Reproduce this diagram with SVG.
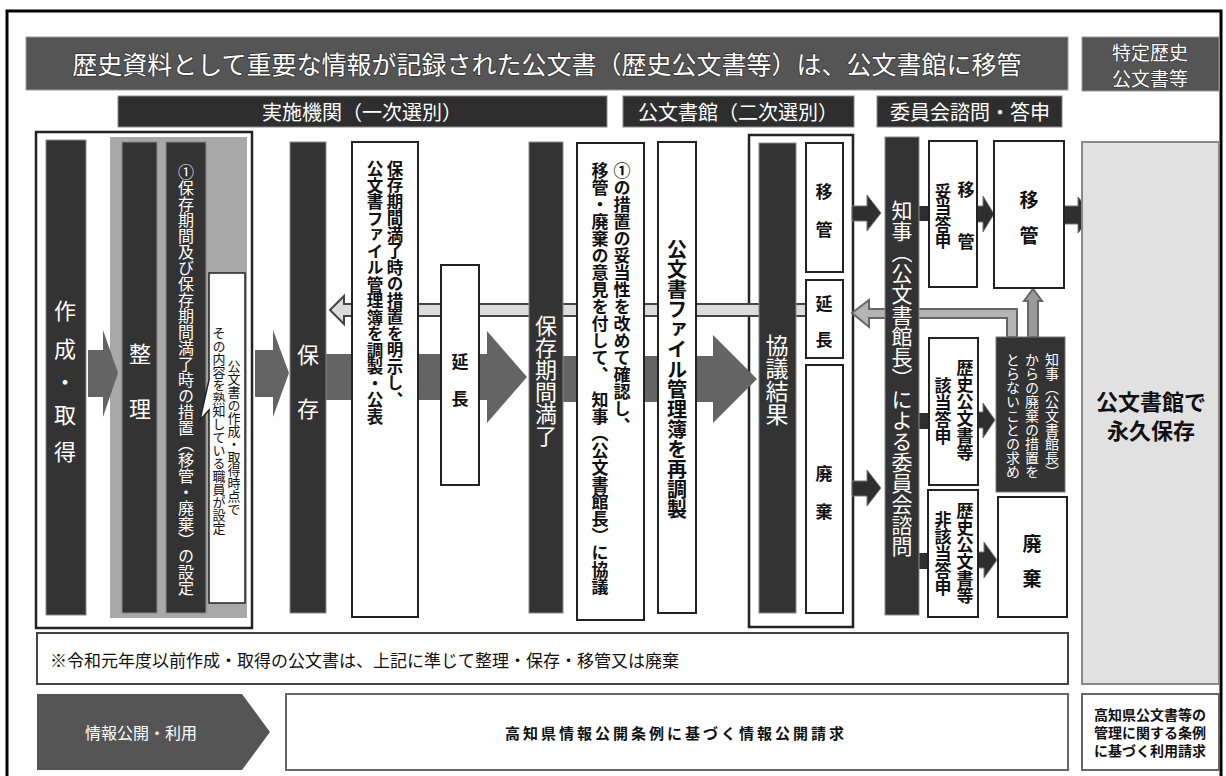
<svg xmlns="http://www.w3.org/2000/svg" width="1226" height="776" viewBox="0 0 1226 776">
<style>
text{font-family:"Noto Sans CJK JP","Noto Sans CJK SC",sans-serif;}
.w{fill:#fff;}
.k{fill:#111;font-weight:bold;}
.v{writing-mode:vertical-rl;}
.c{text-anchor:middle;dominant-baseline:central;}
.dark{fill:#333;stroke:#8a8a8a;stroke-width:1;}
.box{fill:#fff;stroke:#222;stroke-width:2;}
.garrow{fill:#646464;}
.darrow{fill:#2e2e2e;stroke:#777;stroke-width:1;}
</style>
<rect x="0" y="0" width="1226" height="776" fill="#fff"/>
<rect x="7" y="11" width="1214" height="790" fill="none" stroke="#000" stroke-width="3"/>

<g id="background">
  <rect x="36" y="132" width="216" height="496" fill="none" stroke="#222" stroke-width="2.5"/>
  <rect x="110" y="137" width="137" height="481" fill="#a8a8a8"/>
  <rect x="749" y="135" width="104" height="492" fill="none" stroke="#222" stroke-width="2.5"/>
</g>

<g id="header-title">
  <rect x="26" y="37" width="1042" height="53" fill="#555" stroke="#999" stroke-width="1"/>
  <text class="w c" x="547" y="63" font-size="25" stroke="#333" stroke-width="1.5" paint-order="stroke">歴史資料として重要な情報が記録された公文書（歴史公文書等）は、公文書館に移管</text>
</g>
<g id="header-tokutei">
  <rect x="1082" y="37" width="137" height="54" fill="#555" stroke="#999" stroke-width="1"/>
  <text class="w c" font-size="19" stroke="#333" stroke-width="1.2" paint-order="stroke"><tspan x="1150" y="51">特定歴史</tspan><tspan x="1150" y="77">公文書等</tspan></text>
</g>
<g id="header-jisshi">
  <rect x="118" y="96" width="489" height="31" fill="#2e2e2e" stroke="#888" stroke-width="1"/>
  <text class="w c" x="362" y="111" font-size="20">実施機関（一次選別）</text>
</g>
<g id="header-kobunshokan">
  <rect x="623" y="96" width="231" height="31" fill="#2e2e2e" stroke="#888" stroke-width="1"/>
  <text class="w c" x="738" y="111" font-size="20">公文書館（二次選別）</text>
</g>
<g id="header-iinkai">
  <rect x="877" y="96" width="185" height="31" fill="#2e2e2e" stroke="#888" stroke-width="1"/>
  <text class="w c" x="970" y="111" font-size="20">委員会諮問・答申</text>
</g>

<g id="connectors">
  <polygon class="garrow" points="88,350 103,350 103,330 118,373 103,417 103,397 88,397"/>
  <polygon class="garrow" points="255,350 273,350 273,330 289,373 273,417 273,397 255,397"/>
  <polygon class="garrow" points="326,354 487,354 487,331 527,377 487,423 487,400 326,400"/>
  <polygon class="garrow" points="563,356 713,356 713,335 757,379 713,423 713,402 563,402"/>
  <path d="M330,310 L344,296 L344,304 L806,304 L806,316 L344,316 L344,324 Z" fill="#dcdcdc" stroke="#444" stroke-width="2"/>
  <path d="M852,313 L869,300 L869,309 L1017,309 L1017,337 L1007,337 L1007,318 L869,318 L869,327 Z" fill="#b4b4b4" stroke="#666" stroke-width="2"/>
  <path d="M1028,337 L1028,301 L1024,301 L1033,289 L1042,301 L1038,301 L1038,337 Z" fill="#9a9a9a" stroke="#666" stroke-width="2"/>
  <polygon class="darrow" points="852,206 867,206 867,195 881,213 867,231 867,221 852,221"/>
  <polygon class="darrow" points="852,481 867,481 867,470 881,488 867,506 867,496 852,496"/>
  <rect x="919" y="206" width="10" height="15" fill="#2e2e2e"/>
  <rect x="919" y="413" width="10" height="16" fill="#2e2e2e"/>
  <rect x="919" y="553" width="10" height="16" fill="#2e2e2e"/>
  <polygon class="darrow" points="977,206 983,206 983,196 994,214 983,232 983,222 977,222"/>
  <polygon class="darrow" points="978,412 983,412 983,403 995,420 983,438 983,428 978,428"/>
  <polygon class="darrow" points="978,552 984,552 984,542 997,560 984,578 984,568 978,568"/>
  <polygon class="darrow" points="1064,206 1078,206 1078,197 1093,215 1078,233 1078,224 1064,224"/>
</g>

<g id="node-sakusei">
  <rect class="dark" x="46" y="140" width="40" height="475"/>
  <text class="w c" font-size="22"><tspan x="65" y="309">作</tspan><tspan x="65" y="347">成</tspan><tspan x="65" y="380">・</tspan><tspan x="65" y="413">取</tspan><tspan x="65" y="450">得</tspan></text>
</g>
<g id="node-seiri">
  <rect class="dark" x="122" y="142" width="35" height="471"/>
  <text class="w c" font-size="22"><tspan x="140" y="352">整</tspan><tspan x="140" y="407">理</tspan></text>
</g>
<g id="node-settei">
  <rect class="dark" x="166" y="142" width="40" height="471"/>
  <text class="w v c" x="186" y="380" font-size="16">①保存期間及び保存期間満了時の措置（移管・廃棄）の設定</text>
</g>
<g id="node-callout">
  <path d="M209,273 L245,273 L245,603 L209,603 L209,410 L200,420 L209,380 Z" fill="#fff" stroke="#222" stroke-width="1.5"/>
  <text class="v c" font-size="13" fill="#111"><tspan x="234" y="438">公文書の作成・取得時点で</tspan><tspan x="219" y="431">その内容を熟知している職員が設定</tspan></text>
</g>
<g id="node-hozon">
  <rect class="dark" x="290" y="142" width="36" height="471"/>
  <text class="w c" font-size="22"><tspan x="308" y="353">保</tspan><tspan x="308" y="407">存</tspan></text>
</g>
<g id="node-kanribo">
  <rect class="box" x="352" y="142" width="66" height="475" stroke-width="1.5"/>
  <text class="k v" font-size="16.5"><tspan x="395" y="160">保存期間満了時の措置を明示し、</tspan><tspan x="375" y="160">公文書ファイル管理簿を調製・公表</tspan></text>
</g>
<g id="node-encho1">
  <rect class="box" x="441" y="265" width="38" height="220"/>
  <text class="k c" font-size="17"><tspan x="460" y="360">延</tspan><tspan x="460" y="397">長</tspan></text>
</g>
<g id="node-manryo">
  <rect class="dark" x="529" y="142" width="34" height="471"/>
  <text class="w v c" x="546" y="381" font-size="22">保存期間満了</text>
</g>
<g id="node-kyogi-iken">
  <rect class="box" x="577" y="143" width="67" height="477" stroke-width="1.5"/>
  <text class="k v" font-size="17"><tspan x="622" y="162">①の措置の妥当性を改めて確認し、</tspan><tspan x="600" y="162">移管・廃棄の意見を付して、　知事（公文書館長）に協議</tspan></text>
</g>
<g id="node-saichosei">
  <rect class="box" x="658" y="142" width="38" height="471" stroke-width="1.5"/>
  <text class="k v c" x="677" y="379" font-size="20">公文書ファイル管理簿を再調製</text>
</g>
<g id="node-kyogikekka">
  <rect class="dark" x="759" y="143" width="37" height="470"/>
  <text class="w v c" x="777" y="380" font-size="23">協議結果</text>
</g>
<g id="node-kekka-ikan">
  <rect class="box" x="806" y="143" width="37" height="129"/>
  <text class="k c" font-size="17"><tspan x="824" y="190">移</tspan><tspan x="824" y="228">管</tspan></text>
</g>
<g id="node-kekka-encho">
  <rect class="box" x="806" y="280" width="37" height="78"/>
  <text class="k c" font-size="17"><tspan x="824" y="302">延</tspan><tspan x="824" y="338">長</tspan></text>
</g>
<g id="node-kekka-haiki">
  <rect class="box" x="806" y="365" width="37" height="248"/>
  <text class="k c" font-size="17"><tspan x="824" y="472">廃</tspan><tspan x="824" y="510">棄</tspan></text>
</g>
<g id="node-chiji">
  <rect class="dark" x="885" y="137" width="34" height="478"/>
  <text class="w v c" x="902" y="378" font-size="21">知事（公文書館長）による委員会諮問</text>
</g>
<g id="node-datou">
  <rect class="box" x="929" y="141" width="48" height="146"/>
  <text class="k c" font-size="17"><tspan x="966" y="188">移</tspan><tspan x="966" y="240">管</tspan></text>
  <text class="k v c" x="943" y="216" font-size="16.5">妥当答申</text>
</g>
<g id="node-ikan">
  <rect class="box" x="994" y="141" width="70" height="147"/>
  <text class="k c" font-size="19"><tspan x="1029" y="198">移</tspan><tspan x="1029" y="234">管</tspan></text>
</g>
<g id="node-gaito">
  <rect class="box" x="929" y="338" width="49" height="147"/>
  <text class="k v c" font-size="17"><tspan x="965" y="410">歴史公文書等</tspan><tspan x="943" y="411">該当答申</tspan></text>
</g>
<g id="node-motome">
  <rect x="996" y="337" width="69" height="155" fill="#333" stroke="#777" stroke-width="1"/>
  <text class="w v" font-size="14"><tspan x="1052" y="353">知事（公文書館長）</tspan><tspan x="1032" y="353">からの廃棄の措置を</tspan><tspan x="1013" y="353">とらないことの求め</tspan></text>
</g>
<g id="node-higaito">
  <rect class="box" x="928" y="490" width="50" height="127"/>
  <text class="k v c" font-size="17"><tspan x="965" y="553">歴史公文書等</tspan><tspan x="943" y="554">非該当答申</tspan></text>
</g>
<g id="node-haiki">
  <rect class="box" x="998" y="497" width="69" height="120"/>
  <text class="k c" font-size="19"><tspan x="1032" y="542">廃</tspan><tspan x="1032" y="577">棄</tspan></text>
</g>
<g id="node-eikyu">
  <rect x="1082" y="142" width="137" height="542" fill="#e1e1e1" stroke="#888" stroke-width="2"/>
  <text class="k c" font-size="22"><tspan x="1151" y="400">公文書館で</tspan><tspan x="1151" y="429">永久保存</tspan></text>
</g>
<g id="node-note">
  <rect x="37" y="633" width="1031" height="51" fill="#fff" stroke="#444" stroke-width="2"/>
  <text x="50" y="659" font-size="17" fill="#111" dominant-baseline="central">※令和元年度以前作成・取得の公文書は、上記に準じて整理・保存・移管又は廃棄</text>
</g>
<g id="node-joho">
  <polygon points="37,694 242,694 270,732 242,770 37,770" fill="#555"/>
  <text class="w c" x="141" y="732" font-size="16">情報公開・利用</text>
</g>
<g id="node-seikyu">
  <rect x="286" y="694" width="782" height="76" fill="#fff" stroke="#666" stroke-width="2"/>
  <text class="k c" x="676" y="732" font-size="15" letter-spacing="3">高知県情報公開条例に基づく情報公開請求</text>
</g>
<g id="node-riyo">
  <rect x="1082" y="694" width="137" height="76" fill="#fff" stroke="#666" stroke-width="2"/>
  <text class="k c" font-size="14"><tspan x="1150" y="714">高知県公文書等の</tspan><tspan x="1150" y="732">管理に関する条例</tspan><tspan x="1150" y="750">に基づく利用請求</tspan></text>
</g>
</svg>
